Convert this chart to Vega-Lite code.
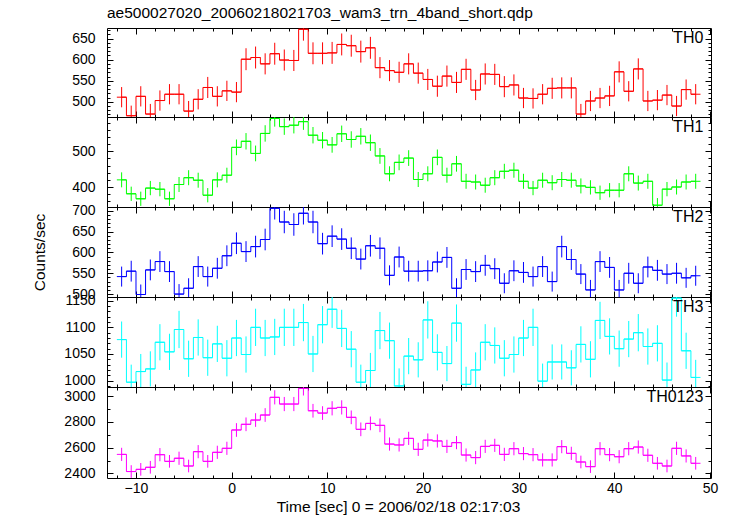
{
  "$schema": "https://vega.github.io/schema/vega-lite/v6.json",
  "padding": {"left": 32, "top": 5, "right": 15, "bottom": 5},
  "background": "white",
  "title": {"text": "ae500027020_20060218021703_wam3_trn_4band_short.qdp", "anchor": "start", "frame": "group", "fontSize": 15.5, "fontWeight": "normal", "font": "Liberation Sans", "color": "#000", "offset": 6},
  "config": {
    "view": {"stroke": "#000", "strokeWidth": 1},
    "axis": {"grid": false, "domain": false, "tickColor": "#000", "labelColor": "#000", "labelFont": "Liberation Sans", "labelFontSize": 14, "titleFont": "Liberation Sans", "titleFontSize": 15.5, "titleFontWeight": "normal", "titleColor": "#000", "labelFlush": false, "labelOverlap": false, "labelBound": false, "format": "d"}
  },
  "data": {"values": [
    {"t": -11.5, "r0": 511, "e0": 24, "r1": 420, "e1": 21, "r2": 542, "e2": 24, "r3": 1077, "e3": 34, "r4": 2548, "e4": 51},
    {"t": -10.5, "r0": 467, "e0": 24, "r1": 381, "e1": 20, "r2": 555, "e2": 25, "r3": 997, "e3": 33, "r4": 2415, "e4": 49},
    {"t": -9.5, "r0": 513, "e0": 24, "r1": 367, "e1": 20, "r2": 499, "e2": 24, "r3": 1017, "e3": 33, "r4": 2432, "e4": 49},
    {"t": -8.5, "r0": 471, "e0": 24, "r1": 397, "e1": 20, "r2": 558, "e2": 25, "r3": 1022, "e3": 33, "r4": 2448, "e4": 49},
    {"t": -7.5, "r0": 503, "e0": 24, "r1": 394, "e1": 20, "r2": 578, "e2": 25, "r3": 1072, "e3": 34, "r4": 2546, "e4": 51},
    {"t": -6.5, "r0": 518, "e0": 24, "r1": 367, "e1": 20, "r2": 554, "e2": 25, "r3": 1054, "e3": 34, "r4": 2494, "e4": 49},
    {"t": -5.5, "r0": 518, "e0": 24, "r1": 407, "e1": 21, "r2": 500, "e2": 24, "r3": 1096, "e3": 35, "r4": 2518, "e4": 51},
    {"t": -4.5, "r0": 478, "e0": 24, "r1": 426, "e1": 21, "r2": 514, "e2": 24, "r3": 1041, "e3": 34, "r4": 2458, "e4": 49},
    {"t": -3.5, "r0": 506, "e0": 24, "r1": 419, "e1": 21, "r2": 566, "e2": 25, "r3": 1081, "e3": 34, "r4": 2569, "e4": 51},
    {"t": -2.5, "r0": 534, "e0": 25, "r1": 377, "e1": 20, "r2": 542, "e2": 24, "r3": 1043, "e3": 34, "r4": 2494, "e4": 49},
    {"t": -1.5, "r0": 513, "e0": 24, "r1": 420, "e1": 21, "r2": 562, "e2": 25, "r3": 1069, "e3": 34, "r4": 2564, "e4": 51},
    {"t": -0.5, "r0": 526, "e0": 24, "r1": 433, "e1": 21, "r2": 592, "e2": 25, "r3": 1042, "e3": 34, "r4": 2595, "e4": 51},
    {"t": 0.5, "r0": 523, "e0": 24, "r1": 511, "e1": 22, "r2": 622, "e2": 26, "r3": 1080, "e3": 34, "r4": 2737, "e4": 53},
    {"t": 1.5, "r0": 601, "e0": 26, "r1": 528, "e1": 23, "r2": 602, "e2": 25, "r3": 1049, "e3": 34, "r4": 2781, "e4": 53},
    {"t": 2.5, "r0": 605, "e0": 26, "r1": 494, "e1": 22, "r2": 614, "e2": 26, "r3": 1100, "e3": 35, "r4": 2814, "e4": 53},
    {"t": 3.5, "r0": 590, "e0": 25, "r1": 550, "e1": 23, "r2": 631, "e2": 26, "r3": 1080, "e3": 34, "r4": 2853, "e4": 53},
    {"t": 4.5, "r0": 614, "e0": 26, "r1": 592, "e1": 23, "r2": 706, "e2": 27, "r3": 1082, "e3": 34, "r4": 2990, "e4": 55},
    {"t": 5.5, "r0": 599, "e0": 25, "r1": 569, "e1": 23, "r2": 673, "e2": 27, "r3": 1100, "e3": 35, "r4": 2938, "e4": 55},
    {"t": 6.5, "r0": 598, "e0": 25, "r1": 573, "e1": 23, "r2": 667, "e2": 27, "r3": 1100, "e3": 35, "r4": 2938, "e4": 55},
    {"t": 7.5, "r0": 672, "e0": 27, "r1": 583, "e1": 23, "r2": 694, "e2": 27, "r3": 1109, "e3": 35, "r4": 3059, "e4": 55},
    {"t": 8.5, "r0": 615, "e0": 26, "r1": 545, "e1": 23, "r2": 673, "e2": 27, "r3": 1050, "e3": 34, "r4": 2886, "e4": 53},
    {"t": 9.5, "r0": 615, "e0": 26, "r1": 531, "e1": 23, "r2": 621, "e2": 26, "r3": 1105, "e3": 35, "r4": 2868, "e4": 53},
    {"t": 10.5, "r0": 616, "e0": 26, "r1": 518, "e1": 22, "r2": 639, "e2": 26, "r3": 1134, "e3": 35, "r4": 2905, "e4": 55},
    {"t": 11.5, "r0": 636, "e0": 26, "r1": 549, "e1": 23, "r2": 632, "e2": 26, "r3": 1098, "e3": 35, "r4": 2912, "e4": 55},
    {"t": 12.5, "r0": 633, "e0": 26, "r1": 533, "e1": 23, "r2": 610, "e2": 26, "r3": 1059, "e3": 34, "r4": 2835, "e4": 53},
    {"t": 13.5, "r0": 619, "e0": 26, "r1": 542, "e1": 23, "r2": 584, "e2": 25, "r3": 997, "e3": 33, "r4": 2742, "e4": 53},
    {"t": 14.5, "r0": 628, "e0": 26, "r1": 524, "e1": 23, "r2": 616, "e2": 26, "r3": 1019, "e3": 33, "r4": 2788, "e4": 53},
    {"t": 15.5, "r0": 581, "e0": 25, "r1": 487, "e1": 22, "r2": 610, "e2": 26, "r3": 1094, "e3": 35, "r4": 2773, "e4": 53},
    {"t": 16.5, "r0": 574, "e0": 25, "r1": 437, "e1": 21, "r2": 545, "e2": 24, "r3": 1075, "e3": 34, "r4": 2628, "e4": 51},
    {"t": 17.5, "r0": 570, "e0": 25, "r1": 469, "e1": 22, "r2": 589, "e2": 25, "r3": 990, "e3": 33, "r4": 2621, "e4": 51},
    {"t": 18.5, "r0": 590, "e0": 25, "r1": 481, "e1": 22, "r2": 555, "e2": 25, "r3": 1046, "e3": 34, "r4": 2672, "e4": 51},
    {"t": 19.5, "r0": 568, "e0": 25, "r1": 421, "e1": 21, "r2": 555, "e2": 25, "r3": 1039, "e3": 33, "r4": 2587, "e4": 51},
    {"t": 20.5, "r0": 553, "e0": 25, "r1": 437, "e1": 21, "r2": 556, "e2": 25, "r3": 1114, "e3": 35, "r4": 2659, "e4": 51},
    {"t": 21.5, "r0": 537, "e0": 25, "r1": 483, "e1": 22, "r2": 577, "e2": 25, "r3": 1053, "e3": 34, "r4": 2652, "e4": 51},
    {"t": 22.5, "r0": 561, "e0": 25, "r1": 433, "e1": 21, "r2": 588, "e2": 25, "r3": 1032, "e3": 33, "r4": 2610, "e4": 51},
    {"t": 23.5, "r0": 546, "e0": 25, "r1": 465, "e1": 22, "r2": 514, "e2": 24, "r3": 1108, "e3": 35, "r4": 2639, "e4": 51},
    {"t": 24.5, "r0": 577, "e0": 25, "r1": 416, "e1": 21, "r2": 559, "e2": 25, "r3": 993, "e3": 33, "r4": 2543, "e4": 51},
    {"t": 25.5, "r0": 528, "e0": 24, "r1": 414, "e1": 21, "r2": 554, "e2": 25, "r3": 1020, "e3": 33, "r4": 2523, "e4": 51},
    {"t": 26.5, "r0": 566, "e0": 25, "r1": 405, "e1": 21, "r2": 569, "e2": 25, "r3": 1072, "e3": 34, "r4": 2610, "e4": 51},
    {"t": 27.5, "r0": 565, "e0": 25, "r1": 426, "e1": 21, "r2": 561, "e2": 25, "r3": 1066, "e3": 34, "r4": 2618, "e4": 51},
    {"t": 28.5, "r0": 536, "e0": 25, "r1": 444, "e1": 21, "r2": 526, "e2": 24, "r3": 1042, "e3": 34, "r4": 2548, "e4": 51},
    {"t": 29.5, "r0": 540, "e0": 25, "r1": 447, "e1": 21, "r2": 556, "e2": 25, "r3": 1049, "e3": 34, "r4": 2592, "e4": 51},
    {"t": 30.5, "r0": 509, "e0": 24, "r1": 416, "e1": 21, "r2": 552, "e2": 25, "r3": 1080, "e3": 34, "r4": 2554, "e4": 51},
    {"t": 31.5, "r0": 508, "e0": 24, "r1": 397, "e1": 20, "r2": 542, "e2": 24, "r3": 1100, "e3": 35, "r4": 2546, "e4": 51},
    {"t": 32.5, "r0": 518, "e0": 24, "r1": 419, "e1": 21, "r2": 566, "e2": 25, "r3": 999, "e3": 33, "r4": 2505, "e4": 51},
    {"t": 33.5, "r0": 532, "e0": 25, "r1": 412, "e1": 21, "r2": 530, "e2": 24, "r3": 1035, "e3": 33, "r4": 2505, "e4": 51},
    {"t": 34.5, "r0": 533, "e0": 25, "r1": 421, "e1": 21, "r2": 614, "e2": 26, "r3": 1035, "e3": 33, "r4": 2608, "e4": 51},
    {"t": 35.5, "r0": 533, "e0": 25, "r1": 419, "e1": 21, "r2": 583, "e2": 25, "r3": 1024, "e3": 33, "r4": 2556, "e4": 51},
    {"t": 36.5, "r0": 471, "e0": 24, "r1": 403, "e1": 21, "r2": 548, "e2": 24, "r3": 1068, "e3": 34, "r4": 2489, "e4": 49},
    {"t": 37.5, "r0": 502, "e0": 24, "r1": 399, "e1": 20, "r2": 510, "e2": 24, "r3": 1040, "e3": 34, "r4": 2453, "e4": 49},
    {"t": 38.5, "r0": 509, "e0": 24, "r1": 384, "e1": 20, "r2": 578, "e2": 25, "r3": 1113, "e3": 35, "r4": 2592, "e4": 51},
    {"t": 39.5, "r0": 514, "e0": 24, "r1": 391, "e1": 20, "r2": 564, "e2": 25, "r3": 1083, "e3": 34, "r4": 2546, "e4": 51},
    {"t": 40.5, "r0": 571, "e0": 25, "r1": 391, "e1": 20, "r2": 510, "e2": 24, "r3": 1060, "e3": 34, "r4": 2530, "e4": 51},
    {"t": 41.5, "r0": 525, "e0": 24, "r1": 437, "e1": 21, "r2": 550, "e2": 25, "r3": 1078, "e3": 34, "r4": 2592, "e4": 51},
    {"t": 42.5, "r0": 578, "e0": 25, "r1": 411, "e1": 21, "r2": 526, "e2": 24, "r3": 1090, "e3": 35, "r4": 2605, "e4": 51},
    {"t": 43.5, "r0": 502, "e0": 24, "r1": 416, "e1": 21, "r2": 565, "e2": 25, "r3": 1064, "e3": 34, "r4": 2541, "e4": 51},
    {"t": 44.5, "r0": 504, "e0": 24, "r1": 349, "e1": 20, "r2": 557, "e2": 25, "r3": 1070, "e3": 34, "r4": 2479, "e4": 49},
    {"t": 45.5, "r0": 516, "e0": 24, "r1": 394, "e1": 20, "r2": 548, "e2": 24, "r3": 1001, "e3": 33, "r4": 2458, "e4": 49},
    {"t": 46.5, "r0": 490, "e0": 24, "r1": 400, "e1": 21, "r2": 550, "e2": 25, "r3": 1155, "e3": 35, "r4": 2595, "e4": 51},
    {"t": 47.5, "r0": 529, "e0": 24, "r1": 414, "e1": 21, "r2": 539, "e2": 24, "r3": 1056, "e3": 34, "r4": 2536, "e4": 51},
    {"t": 48.5, "r0": 518, "e0": 24, "r1": 416, "e1": 21, "r2": 544, "e2": 24, "r3": 1006, "e3": 33, "r4": 2479, "e4": 49}
  ]},
  "spacing": 0,
  "bounds": "flush",
  "vconcat": [
    {
      "width": 604, "height": 89,
      "resolve": {"axis": {"x": "independent", "y": "independent"}},
      "layer": [
        {"mark": {"type": "errorbar", "clip": true, "color": "#ff0000", "thickness": 1},
         "encoding": {
           "x": {"field": "t", "type": "quantitative", "scale": {"domain": [-13.03, 50.1], "nice": false, "zero": false}, "axis": {"orient": "bottom", "values": [-12,-10,-8,-6,-4,-2,0,2,4,6,8,10,12,14,16,18,20,22,24,26,28,30,32,34,36,38,40,42,44,46,48,50], "labels": false, "tickSize": -3, "title": null}},
           "y": {"field": "r0", "type": "quantitative", "scale": {"domain": [464, 675], "nice": false, "zero": false}, "axis": {"orient": "left", "values": [470,480,490,500,510,520,530,540,550,560,570,580,590,600,610,620,630,640,650,660,670], "labels": false, "tickSize": -3, "title": null}},
           "yError": {"field": "e0"}}},
        {"mark": {"type": "line", "clip": true, "color": "#ff0000", "strokeWidth": 1, "interpolate": "step"},
         "encoding": {
           "x": {"field": "t", "type": "quantitative", "scale": {"domain": [-13.03, 50.1], "nice": false, "zero": false}, "axis": {"orient": "top", "values": [-10,0,10,20,30,40,50], "labels": false, "tickSize": -6, "title": null}},
           "y": {"field": "r0", "type": "quantitative", "scale": {"domain": [464, 675], "nice": false, "zero": false}, "axis": {"orient": "right", "values": [500,550,600,650], "labels": false, "tickSize": -6, "title": null}}}},
        {"mark": {"type": "tick", "clip": true, "color": "#ff0000", "orient": "horizontal", "size": 9.6, "thickness": 1, "opacity": 1},
         "encoding": {
           "x": {"field": "t", "type": "quantitative", "scale": {"domain": [-13.03, 50.1], "nice": false, "zero": false}, "axis": {"orient": "bottom", "values": [-10,0,10,20,30,40,50], "labels": false, "tickSize": -6, "title": null}},
           "y": {"field": "r0", "type": "quantitative", "scale": {"domain": [464, 675], "nice": false, "zero": false}, "axis": {"orient": "left", "values": [500,550,600,650], "labels": true, "tickSize": -6, "labelPadding": 18, "title": null}}}},
        {"data": {"values": [{"label": "TH0"}]},
         "mark": {"type": "text", "align": "right", "baseline": "top", "dy": 2, "fontSize": 16, "fontWeight": "normal", "font": "Liberation Sans", "color": "#000"},
         "encoding": {
           "x": {"datum": 49.3, "type": "quantitative", "scale": {"domain": [-13.03, 50.1], "nice": false, "zero": false}, "axis": {"orient": "top", "values": [-12,-10,-8,-6,-4,-2,0,2,4,6,8,10,12,14,16,18,20,22,24,26,28,30,32,34,36,38,40,42,44,46,48,50], "labels": false, "tickSize": -3, "title": null}},
           "y": {"datum": 675, "type": "quantitative", "scale": {"domain": [464, 675], "nice": false, "zero": false}, "axis": {"orient": "right", "values": [470,480,490,500,510,520,530,540,550,560,570,580,590,600,610,620,630,640,650,660,670], "labels": false, "tickSize": -3, "title": null}},
           "text": {"field": "label"}}}
      ]
    },
    {
      "width": 604, "height": 90,
      "resolve": {"axis": {"x": "independent", "y": "independent"}},
      "layer": [
        {"mark": {"type": "errorbar", "clip": true, "color": "#00ff00", "thickness": 1},
         "encoding": {
           "x": {"field": "t", "type": "quantitative", "scale": {"domain": [-13.03, 50.1], "nice": false, "zero": false}, "axis": {"orient": "bottom", "values": [-12,-10,-8,-6,-4,-2,0,2,4,6,8,10,12,14,16,18,20,22,24,26,28,30,32,34,36,38,40,42,44,46,48,50], "labels": false, "tickSize": -3, "title": null}},
           "y": {"field": "r1", "type": "quantitative", "scale": {"domain": [344, 596], "nice": false, "zero": false}, "axis": {"orient": "left", "values": [360,380,400,420,440,460,480,500,520,540,560,580], "labels": false, "tickSize": -3, "title": null}},
           "yError": {"field": "e1"}}},
        {"mark": {"type": "line", "clip": true, "color": "#00ff00", "strokeWidth": 1, "interpolate": "step"},
         "encoding": {
           "x": {"field": "t", "type": "quantitative", "scale": {"domain": [-13.03, 50.1], "nice": false, "zero": false}, "axis": {"orient": "top", "values": [-10,0,10,20,30,40,50], "labels": false, "tickSize": -6, "title": null}},
           "y": {"field": "r1", "type": "quantitative", "scale": {"domain": [344, 596], "nice": false, "zero": false}, "axis": {"orient": "right", "values": [400,500], "labels": false, "tickSize": -6, "title": null}}}},
        {"mark": {"type": "tick", "clip": true, "color": "#00ff00", "orient": "horizontal", "size": 9.6, "thickness": 1, "opacity": 1},
         "encoding": {
           "x": {"field": "t", "type": "quantitative", "scale": {"domain": [-13.03, 50.1], "nice": false, "zero": false}, "axis": {"orient": "bottom", "values": [-10,0,10,20,30,40,50], "labels": false, "tickSize": -6, "title": null}},
           "y": {"field": "r1", "type": "quantitative", "scale": {"domain": [344, 596], "nice": false, "zero": false}, "axis": {"orient": "left", "values": [400,500], "labels": true, "tickSize": -6, "labelPadding": 18, "title": null}}}},
        {"data": {"values": [{"label": "TH1"}]},
         "mark": {"type": "text", "align": "right", "baseline": "top", "dy": 2, "fontSize": 16, "fontWeight": "normal", "font": "Liberation Sans", "color": "#000"},
         "encoding": {
           "x": {"datum": 49.3, "type": "quantitative", "scale": {"domain": [-13.03, 50.1], "nice": false, "zero": false}, "axis": {"orient": "top", "values": [-12,-10,-8,-6,-4,-2,0,2,4,6,8,10,12,14,16,18,20,22,24,26,28,30,32,34,36,38,40,42,44,46,48,50], "labels": false, "tickSize": -3, "title": null}},
           "y": {"datum": 596, "type": "quantitative", "scale": {"domain": [344, 596], "nice": false, "zero": false}, "axis": {"orient": "right", "values": [360,380,400,420,440,460,480,500,520,540,560,580], "labels": false, "tickSize": -3, "title": null}},
           "text": {"field": "label"}}}
      ]
    },
    {
      "width": 604, "height": 90,
      "resolve": {"axis": {"x": "independent", "y": "independent"}},
      "layer": [
        {"mark": {"type": "errorbar", "clip": true, "color": "#0000ff", "thickness": 1},
         "encoding": {
           "x": {"field": "t", "type": "quantitative", "scale": {"domain": [-13.03, 50.1], "nice": false, "zero": false}, "axis": {"orient": "bottom", "values": [-12,-10,-8,-6,-4,-2,0,2,4,6,8,10,12,14,16,18,20,22,24,26,28,30,32,34,36,38,40,42,44,46,48,50], "labels": false, "tickSize": -3, "title": null}},
           "y": {"field": "r2", "type": "quantitative", "scale": {"domain": [493, 709], "nice": false, "zero": false}, "axis": {"orient": "left", "values": [500,510,520,530,540,550,560,570,580,590,600,610,620,630,640,650,660,670,680,690,700], "labels": false, "tickSize": -3, "title": null}},
           "yError": {"field": "e2"}}},
        {"mark": {"type": "line", "clip": true, "color": "#0000ff", "strokeWidth": 1, "interpolate": "step"},
         "encoding": {
           "x": {"field": "t", "type": "quantitative", "scale": {"domain": [-13.03, 50.1], "nice": false, "zero": false}, "axis": {"orient": "top", "values": [-10,0,10,20,30,40,50], "labels": false, "tickSize": -6, "title": null}},
           "y": {"field": "r2", "type": "quantitative", "scale": {"domain": [493, 709], "nice": false, "zero": false}, "axis": {"orient": "right", "values": [500,550,600,650,700], "labels": false, "tickSize": -6, "title": null}}}},
        {"mark": {"type": "tick", "clip": true, "color": "#0000ff", "orient": "horizontal", "size": 9.6, "thickness": 1, "opacity": 1},
         "encoding": {
           "x": {"field": "t", "type": "quantitative", "scale": {"domain": [-13.03, 50.1], "nice": false, "zero": false}, "axis": {"orient": "bottom", "values": [-10,0,10,20,30,40,50], "labels": false, "tickSize": -6, "title": null}},
           "y": {"field": "r2", "type": "quantitative", "scale": {"domain": [493, 709], "nice": false, "zero": false}, "axis": {"orient": "left", "values": [500,550,600,650,700], "labels": true, "tickSize": -6, "labelPadding": 18, "title": "Counts/sec", "titlePadding": 24}}}},
        {"data": {"values": [{"label": "TH2"}]},
         "mark": {"type": "text", "align": "right", "baseline": "top", "dy": 2, "fontSize": 16, "fontWeight": "normal", "font": "Liberation Sans", "color": "#000"},
         "encoding": {
           "x": {"datum": 49.3, "type": "quantitative", "scale": {"domain": [-13.03, 50.1], "nice": false, "zero": false}, "axis": {"orient": "top", "values": [-12,-10,-8,-6,-4,-2,0,2,4,6,8,10,12,14,16,18,20,22,24,26,28,30,32,34,36,38,40,42,44,46,48,50], "labels": false, "tickSize": -3, "title": null}},
           "y": {"datum": 709, "type": "quantitative", "scale": {"domain": [493, 709], "nice": false, "zero": false}, "axis": {"orient": "right", "values": [500,510,520,530,540,550,560,570,580,590,600,610,620,630,640,650,660,670,680,690,700], "labels": false, "tickSize": -3, "title": null}},
           "text": {"field": "label"}}}
      ]
    },
    {
      "width": 604, "height": 90,
      "resolve": {"axis": {"x": "independent", "y": "independent"}},
      "layer": [
        {"mark": {"type": "errorbar", "clip": true, "color": "#00ffff", "thickness": 1},
         "encoding": {
           "x": {"field": "t", "type": "quantitative", "scale": {"domain": [-13.03, 50.1], "nice": false, "zero": false}, "axis": {"orient": "bottom", "values": [-12,-10,-8,-6,-4,-2,0,2,4,6,8,10,12,14,16,18,20,22,24,26,28,30,32,34,36,38,40,42,44,46,48,50], "labels": false, "tickSize": -3, "title": null}},
           "y": {"field": "r3", "type": "quantitative", "scale": {"domain": [988, 1157], "nice": false, "zero": false}, "axis": {"orient": "left", "values": [990,1000,1010,1020,1030,1040,1050,1060,1070,1080,1090,1100,1110,1120,1130,1140,1150], "labels": false, "tickSize": -3, "title": null}},
           "yError": {"field": "e3"}}},
        {"mark": {"type": "line", "clip": true, "color": "#00ffff", "strokeWidth": 1, "interpolate": "step"},
         "encoding": {
           "x": {"field": "t", "type": "quantitative", "scale": {"domain": [-13.03, 50.1], "nice": false, "zero": false}, "axis": {"orient": "top", "values": [-10,0,10,20,30,40,50], "labels": false, "tickSize": -6, "title": null}},
           "y": {"field": "r3", "type": "quantitative", "scale": {"domain": [988, 1157], "nice": false, "zero": false}, "axis": {"orient": "right", "values": [1000,1050,1100,1150], "labels": false, "tickSize": -6, "title": null}}}},
        {"mark": {"type": "tick", "clip": true, "color": "#00ffff", "orient": "horizontal", "size": 9.6, "thickness": 1, "opacity": 1},
         "encoding": {
           "x": {"field": "t", "type": "quantitative", "scale": {"domain": [-13.03, 50.1], "nice": false, "zero": false}, "axis": {"orient": "bottom", "values": [-10,0,10,20,30,40,50], "labels": false, "tickSize": -6, "title": null}},
           "y": {"field": "r3", "type": "quantitative", "scale": {"domain": [988, 1157], "nice": false, "zero": false}, "axis": {"orient": "left", "values": [1000,1050,1100,1150], "labels": true, "tickSize": -6, "labelPadding": 18, "title": null}}}},
        {"data": {"values": [{"label": "TH3"}]},
         "mark": {"type": "text", "align": "right", "baseline": "top", "dy": 2, "fontSize": 16, "fontWeight": "normal", "font": "Liberation Sans", "color": "#000"},
         "encoding": {
           "x": {"datum": 49.3, "type": "quantitative", "scale": {"domain": [-13.03, 50.1], "nice": false, "zero": false}, "axis": {"orient": "top", "values": [-12,-10,-8,-6,-4,-2,0,2,4,6,8,10,12,14,16,18,20,22,24,26,28,30,32,34,36,38,40,42,44,46,48,50], "labels": false, "tickSize": -3, "title": null}},
           "y": {"datum": 1157, "type": "quantitative", "scale": {"domain": [988, 1157], "nice": false, "zero": false}, "axis": {"orient": "right", "values": [990,1000,1010,1020,1030,1040,1050,1060,1070,1080,1090,1100,1110,1120,1130,1140,1150], "labels": false, "tickSize": -3, "title": null}},
           "text": {"field": "label"}}}
      ]
    },
    {
      "width": 604, "height": 91,
      "resolve": {"axis": {"x": "independent", "y": "independent"}},
      "layer": [
        {"mark": {"type": "errorbar", "clip": true, "color": "#ff00ff", "thickness": 1},
         "encoding": {
           "x": {"field": "t", "type": "quantitative", "scale": {"domain": [-13.03, 50.1], "nice": false, "zero": false}, "axis": {"orient": "bottom", "values": [-12,-10,-8,-6,-4,-2,0,2,4,6,8,10,12,14,16,18,20,22,24,26,28,30,32,34,36,38,40,42,44,46,48,50], "labels": false, "tickSize": -3, "title": null}},
           "y": {"field": "r4", "type": "quantitative", "scale": {"domain": [2365, 3070], "nice": false, "zero": false}, "axis": {"orient": "left", "values": [2400,2500,2600,2700,2800,2900,3000], "labels": false, "tickSize": -3, "title": null}},
           "yError": {"field": "e4"}}},
        {"mark": {"type": "line", "clip": true, "color": "#ff00ff", "strokeWidth": 1, "interpolate": "step"},
         "encoding": {
           "x": {"field": "t", "type": "quantitative", "scale": {"domain": [-13.03, 50.1], "nice": false, "zero": false}, "axis": {"orient": "top", "values": [-10,0,10,20,30,40,50], "labels": false, "tickSize": -6, "title": null}},
           "y": {"field": "r4", "type": "quantitative", "scale": {"domain": [2365, 3070], "nice": false, "zero": false}, "axis": {"orient": "right", "values": [2400,2600,2800,3000], "labels": false, "tickSize": -6, "title": null}}}},
        {"mark": {"type": "tick", "clip": true, "color": "#ff00ff", "orient": "horizontal", "size": 9.6, "thickness": 1, "opacity": 1},
         "encoding": {
           "x": {"field": "t", "type": "quantitative", "scale": {"domain": [-13.03, 50.1], "nice": false, "zero": false}, "axis": {"orient": "bottom", "values": [-10,0,10,20,30,40,50], "labels": true, "tickSize": -6, "labelPadding": 9, "title": "Time [sec] 0 = 2006/02/18 02:17:03", "titlePadding": 4, "titleX": 291}},
           "y": {"field": "r4", "type": "quantitative", "scale": {"domain": [2365, 3070], "nice": false, "zero": false}, "axis": {"orient": "left", "values": [2400,2600,2800,3000], "labels": true, "tickSize": -6, "labelPadding": 18, "title": null}}}},
        {"data": {"values": [{"label": "TH0123"}]},
         "mark": {"type": "text", "align": "right", "baseline": "top", "dy": 2, "fontSize": 16, "fontWeight": "normal", "font": "Liberation Sans", "color": "#000"},
         "encoding": {
           "x": {"datum": 49.3, "type": "quantitative", "scale": {"domain": [-13.03, 50.1], "nice": false, "zero": false}, "axis": {"orient": "top", "values": [-12,-10,-8,-6,-4,-2,0,2,4,6,8,10,12,14,16,18,20,22,24,26,28,30,32,34,36,38,40,42,44,46,48,50], "labels": false, "tickSize": -3, "title": null}},
           "y": {"datum": 3070, "type": "quantitative", "scale": {"domain": [2365, 3070], "nice": false, "zero": false}, "axis": {"orient": "right", "values": [2400,2500,2600,2700,2800,2900,3000], "labels": false, "tickSize": -3, "title": null}},
           "text": {"field": "label"}}}
      ]
    }
  ]
}
